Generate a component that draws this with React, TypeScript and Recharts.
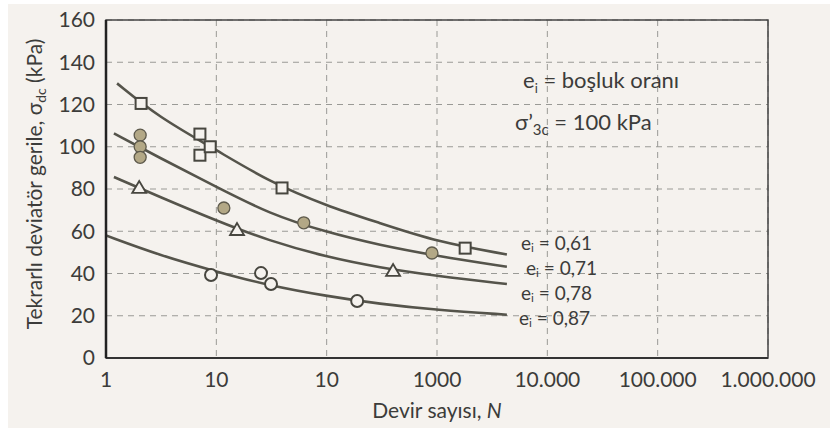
import React from 'react';
import {
  ComposedChart, Line, Scatter, XAxis, YAxis, CartesianGrid, ReferenceArea,
} from 'recharts';

const X_TICKS = [1, 10, 100, 1000, 10000, 100000, 1000000];
// the source figure prints "10" twice (third label should be 100)
const X_TICK_LABELS = ['1', '10', '10', '1000', '10.000', '100.000', '1.000.000'];
const Y_TICKS = [0, 20, 40, 60, 80, 100, 120, 140, 160];

// fitted curves
const CURVE_061_N = [1.26, 3, 10, 30, 100, 300, 1000, 4300];
const CURVE_061_V = [130, 114, 98.5, 83.5, 72, 64, 55, 49];
const CURVE_071_N = [1.18, 3, 10, 30, 100, 300, 1000, 4300];
const CURVE_071_V = [106.3, 95, 81, 68.3, 59.5, 53.5, 48.3, 43.2];
const CURVE_078_N = [1.18, 3, 10, 30, 100, 300, 1000, 4300];
const CURVE_078_V = [85.7, 76.5, 65, 55.5, 47.8, 42.8, 38.8, 35];
const CURVE_087_N = [1, 3, 10, 30, 100, 300, 1000, 4300];
const CURVE_087_V = [58, 48.8, 40.9, 34.3, 29.3, 25.6, 22.7, 20.5];

// test points
const SQ_N = [2.08, 7.1, 7.1, 8.8, 39.4, 1800];
const SQ_V = [120.5, 106, 96, 100, 80.5, 52];
const FC_N = [2.04, 2.04, 2.04, 11.7, 62, 900];
const FC_V = [105.5, 100, 95, 71, 64, 49.7];
const TR_N = [2.0, 15.4, 400];
const TR_V = [80.5, 60.6, 41.2];
const OC_N = [8.95, 25.4, 31.3, 189];
const OC_V = [39.3, 40.2, 35, 27];

const toRows = (ns: number[], vs: number[]) => ns.map((n, i) => ({ n, v: vs[i] }));

const BG = '#f5f2ee';
const INK = '#3c3c3a';
const LINE = '#55544b';
const FONT = 'Lato, "Open Sans", sans-serif';

const Square = (p: any) => (
  <rect x={p.cx - 5.5} y={p.cy - 5.5} width={11} height={11} fill={BG} stroke="#47463f" strokeWidth={2} />
);
const FilledCircle = (p: any) => (
  <circle cx={p.cx} cy={p.cy} r={6} fill="#b3a886" stroke="#5e5a4c" strokeWidth={1.3} />
);
const Triangle = (p: any) => (
  <polygon
    points={`${p.cx},${p.cy - 7} ${p.cx - 7},${p.cy + 5} ${p.cx + 7},${p.cy + 5}`}
    fill={BG}
    stroke="#47463f"
    strokeWidth={1.8}
  />
);
const OpenCircle = (p: any) => (
  <circle cx={p.cx} cy={p.cy} r={6} fill={BG} stroke="#47463f" strokeWidth={2} />
);

const CURVES = [
  { key: '061', data: toRows(CURVE_061_N, CURVE_061_V) },
  { key: '071', data: toRows(CURVE_071_N, CURVE_071_V) },
  { key: '078', data: toRows(CURVE_078_N, CURVE_078_V) },
  { key: '087', data: toRows(CURVE_087_N, CURVE_087_V) },
];

const CURVE_LABELS = [
  { text: '0,61', x: 521, y: 250 },
  { text: '0,71', x: 526, y: 275 },
  { text: '0,78', x: 521, y: 300 },
  { text: '0,87', x: 519, y: 325 },
];

export default function App() {
  return (
    <div style={{ position: 'relative', width: 836, height: 429, background: '#fff', fontFamily: FONT }}>
      <style>{'body{margin:0}'}</style>
      <div style={{ position: 'absolute', left: 8, top: 4, width: 822, height: 424, background: BG }} />
      <div style={{ position: 'absolute', left: 0, top: 0 }}>
        <ComposedChart width={836} height={429} margin={{ top: 20, right: 68, left: 0, bottom: 0 }}>
          <CartesianGrid stroke="#9a9a96" strokeDasharray="6 5" strokeWidth={1} />
          <XAxis
            dataKey="n"
            type="number"
            scale="log"
            domain={[1, 1000000]}
            ticks={X_TICKS}
            allowDataOverflow
            height={71}
            tickSize={0}
            tickMargin={14}
            axisLine={{ stroke: '#333', strokeWidth: 2 }}
            tick={{ fill: INK, fontSize: 21, fontFamily: FONT }}
            tickFormatter={(v: number) => X_TICK_LABELS[X_TICKS.indexOf(v)] ?? ''}
          />
          <YAxis
            dataKey="v"
            type="number"
            domain={[0, 160]}
            ticks={Y_TICKS}
            width={106}
            tickSize={0}
            tickMargin={11}
            axisLine={{ stroke: '#222', strokeWidth: 2.5 }}
            tick={{ fill: INK, fontSize: 21, fontFamily: FONT }}
          />
          <ReferenceArea x1={1} x2={1000000} y1={0} y2={160} fill="none" stroke="#444" strokeWidth={1.5} />
          {CURVES.map((c) => (
            <Line
              key={c.key}
              data={c.data}
              dataKey="v"
              type="basis"
              stroke={LINE}
              strokeWidth={2.6}
              dot={false}
              activeDot={false}
              isAnimationActive={false}
            />
          ))}
          <Scatter data={toRows(SQ_N, SQ_V)} dataKey="v" shape={Square} isAnimationActive={false} />
          <Scatter data={toRows(FC_N, FC_V)} dataKey="v" shape={FilledCircle} isAnimationActive={false} />
          <Scatter data={toRows(TR_N, TR_V)} dataKey="v" shape={Triangle} isAnimationActive={false} />
          <Scatter data={toRows(OC_N, OC_V)} dataKey="v" shape={OpenCircle} isAnimationActive={false} />
        </ComposedChart>
      </div>
      <svg
        width={836}
        height={429}
        style={{ position: 'absolute', left: 0, top: 0, pointerEvents: 'none' }}
        fontFamily={FONT}
        fill={INK}
      >
        <text x={42} y={184} fontSize={21} textAnchor="middle" transform="rotate(-90, 42, 184)">
          Tekrarlı deviatör gerile, σ<tspan fontSize={14} dy={4}>dc</tspan>
          <tspan dy={-4}> (kPa)</tspan>
        </text>
        <text x={437} y={418} fontSize={21} textAnchor="middle">
          Devir sayısı, <tspan fontStyle="italic">N</tspan>
        </text>
        <text x={523} y={88} fontSize={22}>
          e<tspan fontSize={13} dy={5}>i</tspan>
          <tspan dy={-5}> = boşluk oranı</tspan>
        </text>
        <text x={515} y={130} fontSize={22}>
          σ’<tspan fontSize={15} dy={5}>3c</tspan>
          <tspan dy={-5}> = 100 kPa</tspan>
        </text>
        {CURVE_LABELS.map((l) => (
          <text key={l.text} x={l.x} y={l.y} fontSize={19}>
            e<tspan fontSize={12} dy={2}>i</tspan>
            <tspan dy={-2}> = {l.text}</tspan>
          </text>
        ))}
      </svg>
    </div>
  );
}
